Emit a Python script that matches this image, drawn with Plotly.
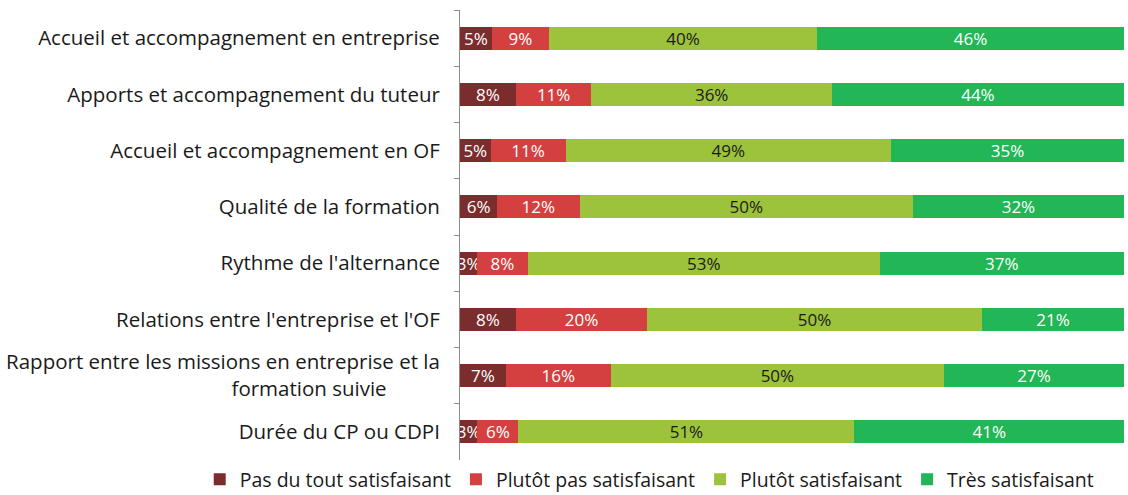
import plotly.graph_objects as go

NB = "\u00a0"

categories = [
    "Accueil et accompagnement en entreprise",
    "Apports et accompagnement du tuteur",
    "Accueil et accompagnement en OF",
    "Qualité de la formation",
    "Rythme de l'alternance",
    "Relations entre l'entreprise et l'OF",
    "Rapport entre les missions en entreprise et la<br>formation suivie" + NB * 10,
    "Durée du CP ou CDPI",
]

series_names = [
    "Pas du tout satisfaisant",
    "Plutôt pas satisfaisant",
    "Plutôt satisfaisant",
    "Très satisfaisant",
]

pas_du_tout = [4.8, 8.4, 4.6, 5.6, 2.6, 8.4, 6.9, 2.6]
plutot_pas = [8.6, 11.4, 11.3, 12.4, 7.6, 19.8, 15.8, 6.2]
plutot = [40.4, 36.2, 49.0, 50.2, 53.0, 50.4, 50.2, 50.6]
tres = [46.2, 44.0, 35.1, 31.8, 36.8, 21.4, 27.1, 40.6]

colors = ["#7B2D2D", "#D4403F", "#9DC23C", "#22B657"]
text_colors = ["white", "white", "#1a1a1a", "white"]

fig = go.Figure()
for name, vals, col, tcol in zip(series_names, [pas_du_tout, plutot_pas, plutot, tres], colors, text_colors):
    fig.add_trace(go.Bar(
        name=name,
        y=categories,
        x=vals,
        orientation="h",
        marker=dict(color=col, line=dict(width=0)),
        texttemplate="%{x:.0f}%",
        textposition="inside",
        insidetextanchor="middle",
        textangle=0,
        constraintext="none",
        textfont=dict(color=tcol, size=17, family="Open Sans"),
        hoverinfo="name+x",
    ))

fig.update_layout(
    barmode="stack",
    bargap=0.59,
    width=1128,
    height=495,
    margin=dict(l=460, r=4, t=10, b=35, autoexpand=False),
    plot_bgcolor="white",
    paper_bgcolor="white",
    font=dict(family="Open Sans", size=20.5, color="#1a1a1a"),
    legend=dict(
        orientation="h",
        x=-0.392, xanchor="left",
        y=0, yanchor="top",
        font=dict(size=19.5),
        traceorder="normal",
        itemwidth=30,
    ),
)
fig.update_xaxes(range=[0, 100], visible=False, showgrid=False)
fig.update_yaxes(
    autorange="reversed",
    showline=True, linecolor="#8c8c8c", linewidth=1,
    ticks="outside", ticklen=5, tickcolor="#8c8c8c",
    tickson="boundaries",
    showgrid=False,
    ticklabelstandoff=15,
)

fig.write_html(
    "out.html",
    config={"displayModeBar": False},
    post_script="document.body.style.margin='0';",
)
